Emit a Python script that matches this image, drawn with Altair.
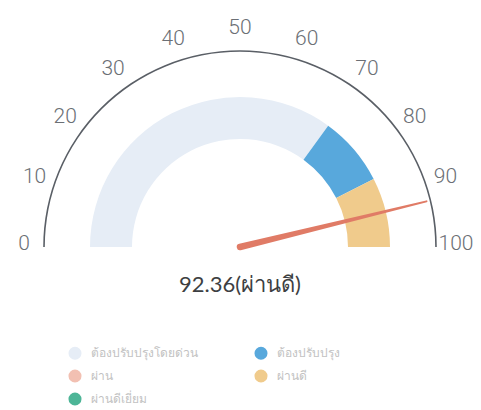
import math
import altair as alt
import pandas as pd

# ---- data ----
categories = ["ต้องปรับปรุงโดยด่วน", "ต้องปรับปรุง", "ผ่าน", "ผ่านดี", "ผ่านดีเยี่ยม"]
cat_colors = ["#e6edf6", "#58a8dc", "#f2c0b2", "#f0cb8c", "#4db597"]
band_category = ["ต้องปรับปรุงโดยด่วน", "ต้องปรับปรุง", "ผ่านดี"]
band_start = [0, 70, 85]
band_end = [70, 85, 100]
tick_values = [0, 10, 20, 30, 40, 50, 60, 70, 80, 90, 100]
score = 92.36
score_text = "ผ่านดี"

# ---- layout (pixels) ----
W, H = 465, 402
CX, CY = 232, 239
R_OUT = 196
BAND_IN, BAND_OUT = 108, 150
LABEL_R = 216
NEEDLE_R = 192
FONT = "Lato"
TICK_FONT = "Roboto"

theta_scale = alt.Scale(domain=[0, 100], range=[-math.pi / 2, math.pi / 2])

bands = pd.DataFrame({"cat": band_category, "start": band_start, "end": band_end})
outline = pd.DataFrame({"start": [0], "end": [100]})
ticks = pd.DataFrame({"v": tick_values, "label": [str(v) for v in tick_values]})

ang = math.pi * (1 - score / 100)
needle = pd.DataFrame({
    "x": [0.0, NEEDLE_R * math.cos(ang)],
    "y": [0.0, NEEDLE_R * math.sin(ang)],
    "w": [6.5, 2.0],
    "o": [0, 1],
})
center = pd.DataFrame({"t": [f"{score}({score_text})"]})

xs = alt.Scale(domain=[-CX, W - CX], range=[0, W])
ys = alt.Scale(domain=[CY - H, CY])

band_layer = alt.Chart(bands).mark_arc(radius=BAND_OUT, radius2=BAND_IN).encode(
    theta=alt.Theta("start:Q", scale=theta_scale),
    theta2="end:Q",
    x=alt.value(CX), y=alt.value(CY),
    color=alt.Color("cat:N", scale=alt.Scale(domain=categories, range=cat_colors),
                    legend=alt.Legend(title=None, orient="none", legendX=60, legendY=338,
                                      direction="horizontal",
                                      columns=2, columnPadding=56, rowPadding=9,
                                      symbolType="circle", symbolSize=170,
                                      symbolStrokeWidth=0, labelOffset=9,
                                      labelFont=FONT, labelFontSize=12,
                                      labelColor="#c2c2c2")),
)

outline_layer = alt.Chart(outline).mark_arc(radius=R_OUT + 0.8, radius2=R_OUT - 0.8, color="#5a5f66").encode(
    theta=alt.Theta("start:Q", scale=theta_scale),
    theta2="end:Q",
    x=alt.value(CX), y=alt.value(CY),
)

tick_layer = alt.Chart(ticks).mark_text(radius=LABEL_R, font=TICK_FONT, fontSize=21, fontWeight=300,
                                        color="#6b6f75", align="center", baseline="middle").encode(
    theta=alt.Theta("v:Q", scale=theta_scale),
    x=alt.value(CX), y=alt.value(CY - 3),
    text="label:N",
)

needle_layer = alt.Chart(needle).mark_trail(color="#e07b66").encode(
    x=alt.X("x:Q", scale=xs, axis=None),
    y=alt.Y("y:Q", scale=ys, axis=None),
    size=alt.Size("w:Q", scale=None, legend=None),
    order="o:Q",
)

center_layer = alt.Chart(center).mark_text(font=FONT, fontSize=22, color="#3d3f42",
                                           align="center", baseline="middle").encode(
    x=alt.value(CX), y=alt.value(277), text="t:N",
)

chart = alt.layer(outline_layer, band_layer, needle_layer, tick_layer, center_layer).resolve_scale(
    theta="shared"
).properties(
    width=W, height=H, autosize=alt.AutoSizeParams(type="none"), padding=0
).configure_view(stroke=None)

chart.save("out.html", embed_options={"renderer": "svg", "actions": False})
